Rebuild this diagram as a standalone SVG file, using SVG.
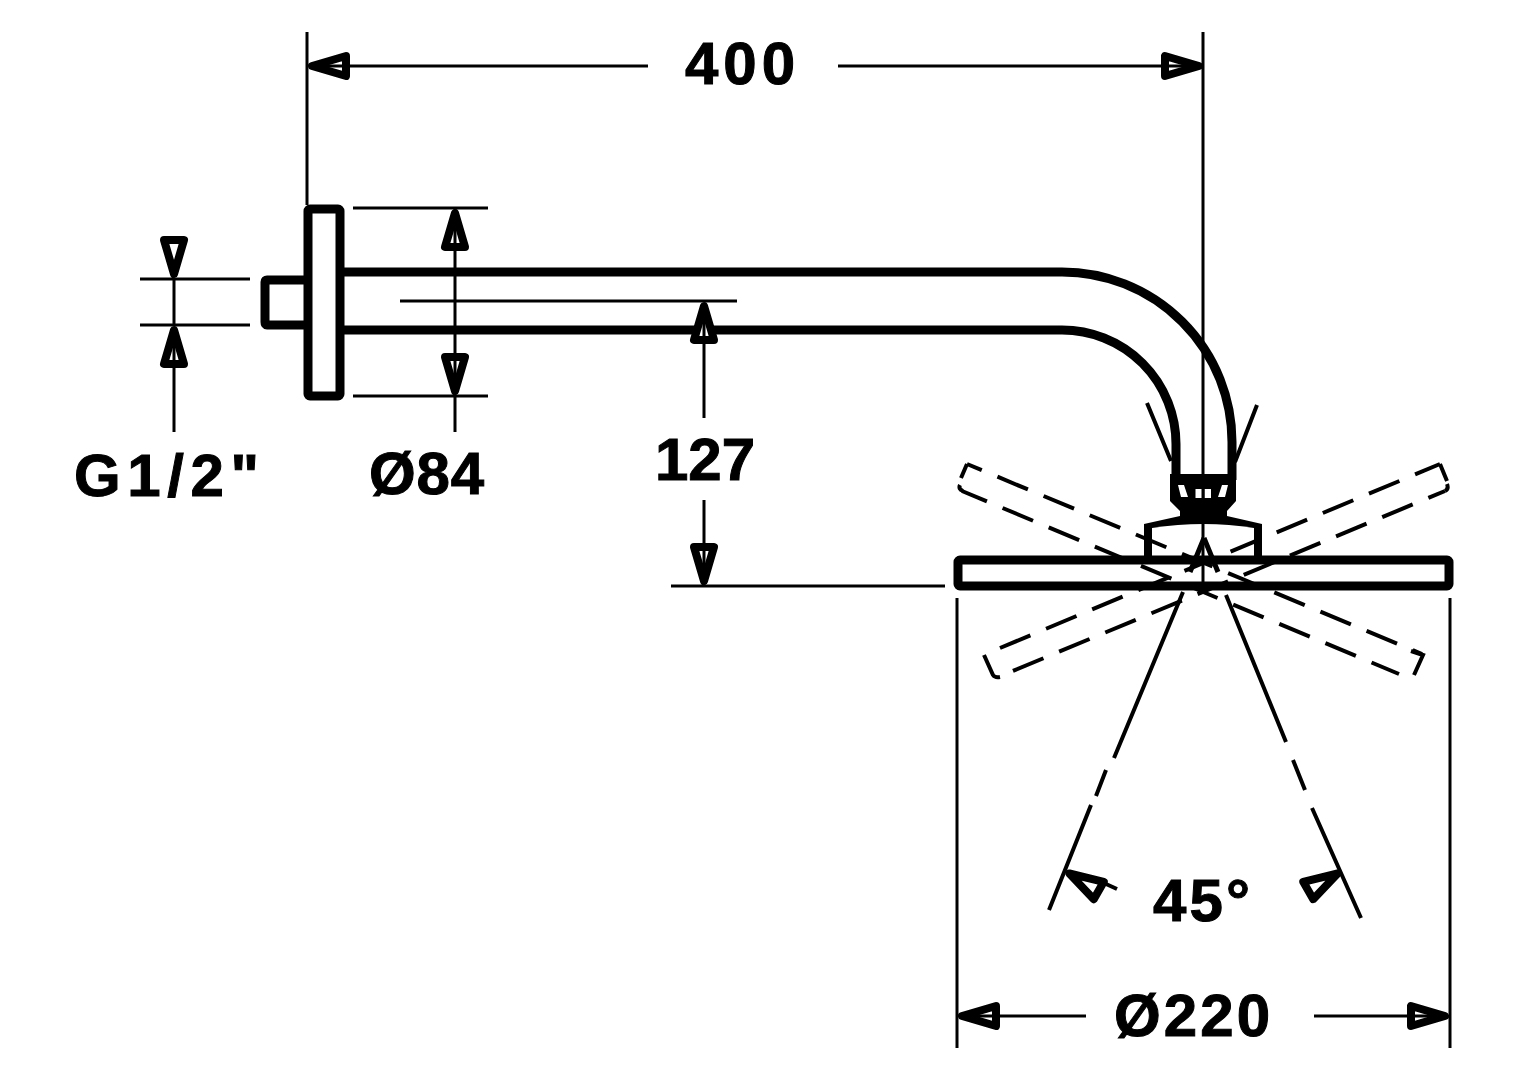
<svg xmlns="http://www.w3.org/2000/svg" width="1528" height="1080" viewBox="0 0 1528 1080">
<style>
.thick{fill:none;stroke:#000;stroke-width:9;stroke-linejoin:round}
.thin{fill:none;stroke:#000;stroke-width:3}
.mid{fill:none;stroke:#000;stroke-width:4}
.dash{fill:none;stroke:#000;stroke-width:4;stroke-dasharray:33 17}
.ah{fill:#fff;stroke:#000;stroke-width:8;stroke-linejoin:round}
text{font-family:"Liberation Sans",Arial,sans-serif;font-weight:700;font-size:60px;fill:#000;stroke:#000;stroke-width:1}
</style>
<defs>
<polygon id="ah" class="ah" points="0,5 -10,39 10,39"/>
</defs>
<rect width="1528" height="1080" fill="#fff"/>
<g id="arm">
<path class="thick" d="M344 272H1062A170 170 0 0 1 1232 442V480"/>
<path class="thick" d="M344 330H1062A114 114 0 0 1 1176 444V480"/>
</g>
<g id="flange">
<rect class="thick" x="308" y="209" width="32" height="187" rx="2"/>
<path class="thick" d="M304 280H267Q265 280 265 282V322Q265 325 267 325H304"/>
</g>
<g id="shower-head">
<path d="M1170 474H1236V501L1227 511V516L1262 524V556H1144V524L1180 516V511L1170 501Z" fill="#000"/>
<path d="M1152 556V528Q1204 520 1254 528V556Z" fill="#fff"/>
<path fill="#fff" d="M1178 485H1184L1188 497H1181ZM1195.500 489H1202V498H1195.500ZM1204.500 489H1211V498H1204.500ZM1222 485H1228L1225 497H1218Z"/>
<rect class="thick" x="958" y="560" width="491" height="26" rx="2"/>
<path class="dash" stroke-dashoffset="17" d="M967 464L1422 654"/>
<path class="dash" stroke-dashoffset="6" d="M962 491L1399 674"/>
<path class="dash" stroke-dashoffset="6" d="M1440 464L1000 648"/>
<path class="dash" stroke-dashoffset="15" d="M1445 491L1008 673"/>
<path class="mid" d="M967 464L961 478M960 485Q958 489 963 491M1440 464L1447 481M1447 484Q1449 489 1445 491M1411 651L1423 655L1414 675M984 655L993 675Q995 678 1000 677"/>
</g>
<g id="connectors">
<path class="thin" d="M307 32V205M1203 32V593M353 208H488M353 396H488M140 279H250M140 325H250M400 301H737M671 586H945M957 598V1048M1450 598V1048"/>
<path class="thin" d="M352 66H648M838 66H1160M174 278V325M174 368V432M455 208V432M704 345V418M704 500V586M1000 1016H1086M1314 1016H1406"/>
<path class="mid" d="M1147 403L1171 461M1257 405L1235 462"/>
<path class="mid" d="M1183 592L1114 758M1106 770L1096 796M1091 805L1049 910M1226 595L1286 742M1293 760L1305 790M1312 808L1361 918M1106 884L1117 889"/>
<path class="thick" style="stroke-width:5" d="M1204 538L1190 572M1204 538L1218 572"/>
<use href="#ah" transform="translate(307,66) rotate(-90)"/>
<use href="#ah" transform="translate(1204,66) rotate(90)"/>
<use href="#ah" transform="translate(174,279) rotate(180)"/>
<use href="#ah" transform="translate(174,325)"/>
<use href="#ah" transform="translate(455,208)"/>
<use href="#ah" transform="translate(455,396) rotate(180)"/>
<use href="#ah" transform="translate(704,301)"/>
<use href="#ah" transform="translate(704,586) rotate(180)"/>
<use href="#ah" transform="translate(957,1016) rotate(-90)"/>
<use href="#ah" transform="translate(1450,1016) rotate(90)"/>
<use href="#ah" transform="translate(1065,871) rotate(-60)"/>
<use href="#ah" transform="translate(1342,871) rotate(60)"/>
<path class="thin" d="M352 66H320M1160 66H1190M174 368V340M455 250V222M455 354V382M704 345V316M704 544V572M1000 1016H972M1406 1016H1435"/>
</g>
<g id="labels">
<text x="685" y="84" textLength="110">400</text>
<text x="74" y="496" textLength="185">G1/2"</text>
<text x="369" y="494" textLength="115">Ø84</text>
<text x="655" y="480" textLength="100">127</text>
<text x="1153" y="921" textLength="97">45°</text>
<text x="1114" y="1036" textLength="156">Ø220</text>
</g>
</svg>
